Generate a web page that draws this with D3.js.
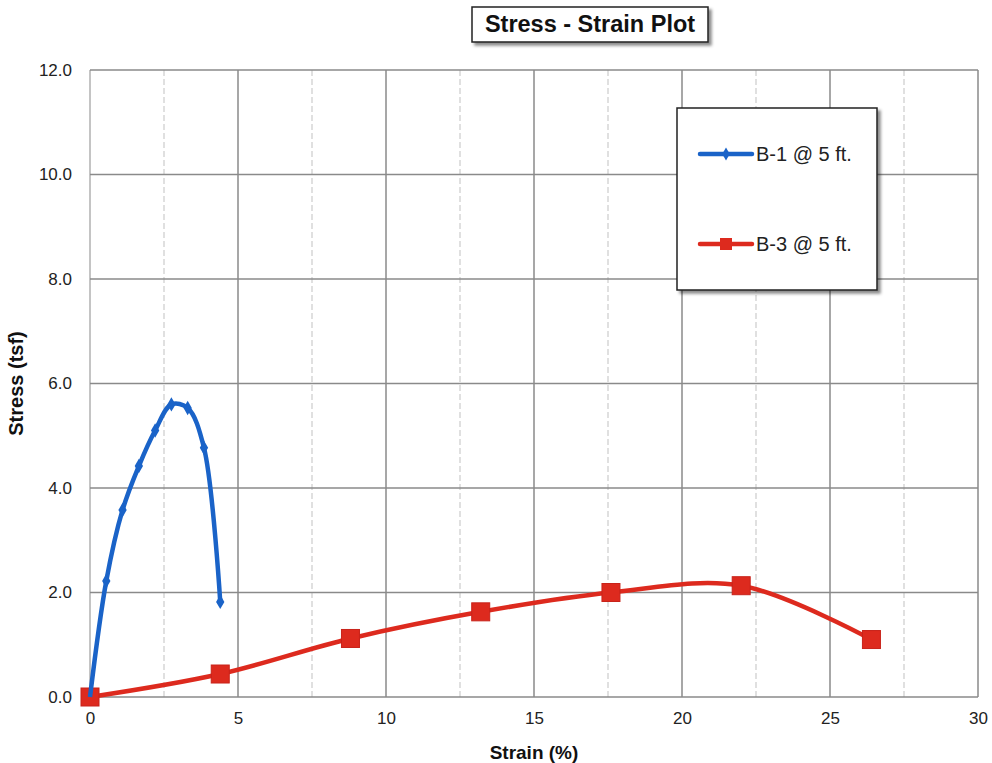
<!DOCTYPE html>
<html>
<head>
<meta charset="utf-8">
<script src="https://cdn.jsdelivr.net/npm/d3@7"></script>
<style>
  body { margin: 0; background: #fff; }
  text { font-family: "Liberation Sans", Arial, sans-serif; }
</style>
</head>
<body>
<div id="chart"></div>
<script>
// data
var b1Strain = [0, 0.55, 1.1, 1.65, 2.2, 2.75, 3.3, 3.85, 4.4]
var b1Stress = [0, 2.22, 3.58, 4.42, 5.1, 5.6, 5.53, 4.77, 1.82]
var b3Strain = [0, 4.4, 8.8, 13.2, 17.6, 22.0, 26.4]
var b3Stress = [0, 0.44, 1.12, 1.63, 2.0, 2.13, 1.1]
var xTicks = [0, 5, 10, 15, 20, 25, 30]
var xMinor = [2.5, 7.5, 12.5, 17.5, 22.5, 27.5]
var yTicks = [0, 2, 4, 6, 8, 10, 12]
var seriesNames = ["B-1 @ 5 ft.", "B-3 @ 5 ft."]

var W = 992, H = 763
var margin = { top: 70, right: 14, bottom: 66, left: 90 },
    width = W - margin.left - margin.right,
    height = H - margin.top - margin.bottom

var svg = d3.select("#chart").append("svg")
    .attr("width", W)
    .attr("height", H)

var defs = svg.append("defs")
var f = defs.append("filter").attr("id", "shadow")
    .attr("x", "-10%").attr("y", "-10%").attr("width", "130%").attr("height", "140%")
f.append("feDropShadow").attr("dx", 3).attr("dy", 3).attr("stdDeviation", 1.5)
    .attr("flood-color", "#000").attr("flood-opacity", 0.45)

var g = svg.append("g")
    .attr("transform", "translate(" + margin.left + "," + margin.top + ")")

var x = d3.scaleLinear().domain([0, 30]).range([0, width])
var y = d3.scaleLinear().domain([0, 12]).range([height, 0])

// minor vertical grid
g.selectAll(".minor").data(xMinor).enter().append("line")
    .attr("x1", d => x(d)).attr("x2", d => x(d))
    .attr("y1", 0).attr("y2", height)
    .attr("stroke", "#cccccc").attr("stroke-width", 1.2)
    .attr("stroke-dasharray", "6,3")

// major grid
g.selectAll(".vmaj").data(xTicks).enter().append("line")
    .attr("x1", d => x(d)).attr("x2", d => x(d))
    .attr("y1", 0).attr("y2", height)
    .attr("stroke", d => d === 0 ? "#b0b0b0" : "#8a8a8a").attr("stroke-width", 1.5)
g.selectAll(".hmaj").data(yTicks).enter().append("line")
    .attr("x1", 0).attr("x2", width)
    .attr("y1", d => y(d)).attr("y2", d => y(d))
    .attr("stroke", "#8a8a8a").attr("stroke-width", 1.5)

// axes (labels only)
var xAxis = g.append("g")
    .attr("transform", "translate(0," + height + ")")
    .call(d3.axisBottom(x).tickValues(xTicks).tickSize(0).tickPadding(15))
xAxis.select(".domain").remove()
xAxis.selectAll("text").attr("font-size", 17).attr("fill", "#222")
    .style("font-family", "'Liberation Sans', Arial, sans-serif")

var yAxis = g.append("g")
    .call(d3.axisLeft(y).tickValues(yTicks).tickFormat(d3.format(".1f")).tickSize(0).tickPadding(18))
yAxis.select(".domain").remove()
yAxis.selectAll("text").attr("font-size", 17).attr("fill", "#222")
    .style("font-family", "'Liberation Sans', Arial, sans-serif")

// series
var line = d3.line()
    .x(d => x(d[0])).y(d => y(d[1]))
    .curve(d3.curveCatmullRom.alpha(0.5))

var b1 = b1Strain.map((s, i) => [s, b1Stress[i]])
var b3 = b3Strain.map((s, i) => [s, b3Stress[i]])

var blue = "#1a63c8", red = "#dd2a1e"

g.append("path").datum(b3).attr("d", line)
    .attr("fill", "none").attr("stroke", red).attr("stroke-width", 4.5)
g.selectAll(".sq").data(b3).enter().append("rect")
    .attr("x", d => x(d[0]) - 9).attr("y", d => y(d[1]) - 9)
    .attr("width", 18).attr("height", 18)
    .attr("fill", red).attr("stroke", "#c8231a").attr("stroke-width", 1)

g.append("path").datum(b1).attr("d", line)
    .attr("fill", "none").attr("stroke", blue).attr("stroke-width", 4.5)
g.selectAll(".dm").data(b1.slice(1)).enter().append("path")
    .attr("d", d3.symbol(d3.symbolDiamond, 60))
    .attr("transform", d => "translate(" + x(d[0]) + "," + y(d[1]) + ")")
    .attr("fill", blue)

// title
var tb = svg.append("g").attr("transform", "translate(590,24)")
tb.append("rect").attr("x", -118).attr("y", -17).attr("width", 236).attr("height", 35)
    .attr("fill", "#fff").attr("stroke", "#222").attr("stroke-width", 1.5)
    .attr("filter", "url(#shadow)")
tb.append("text").attr("text-anchor", "middle").attr("dy", "0.36em")
    .attr("font-size", 23.5).attr("font-weight", "bold").attr("fill", "#111")
    .text("Stress - Strain Plot")

// legend
var lg = svg.append("g").attr("transform", "translate(677,108)")
lg.append("rect").attr("width", 200).attr("height", 182)
    .attr("fill", "#fff").attr("stroke", "#222").attr("stroke-width", 1.5)
    .attr("filter", "url(#shadow)")
var leg = lg.selectAll(".leg").data(seriesNames).enter().append("g")
    .attr("transform", (d, i) => "translate(0," + (46 + i * 90) + ")")
leg.append("line").attr("x1", 23).attr("x2", 75)
    .attr("stroke", (d, i) => i === 0 ? blue : red).attr("stroke-width", 4.5)
    .attr("stroke-linecap", "round")
leg.each(function (d, i) {
    var s = d3.select(this)
    if (i === 0) {
        s.append("path").attr("d", d3.symbol(d3.symbolDiamond, 50))
            .attr("transform", "translate(49,0)").attr("fill", blue)
    } else {
        s.append("rect").attr("x", 43).attr("y", -6).attr("width", 12).attr("height", 12)
            .attr("fill", red)
    }
})
leg.append("text").attr("x", 79).attr("dy", "0.36em")
    .attr("font-size", 20).attr("fill", "#222").text(d => d)

// axis titles
svg.append("text").attr("x", margin.left + x(15)).attr("y", 752)
    .attr("text-anchor", "middle").attr("dy", "0.36em").attr("font-size", 19).attr("font-weight", "bold")
    .attr("fill", "#111").text("Strain (%)")
svg.append("text")
    .attr("transform", "translate(16," + (margin.top + y(6)) + ") rotate(-90)")
    .attr("text-anchor", "middle").attr("dy", "0.36em").attr("font-size", 20).attr("font-weight", "bold")
    .attr("fill", "#111").text("Stress (tsf)")
</script>
</body>
</html>
